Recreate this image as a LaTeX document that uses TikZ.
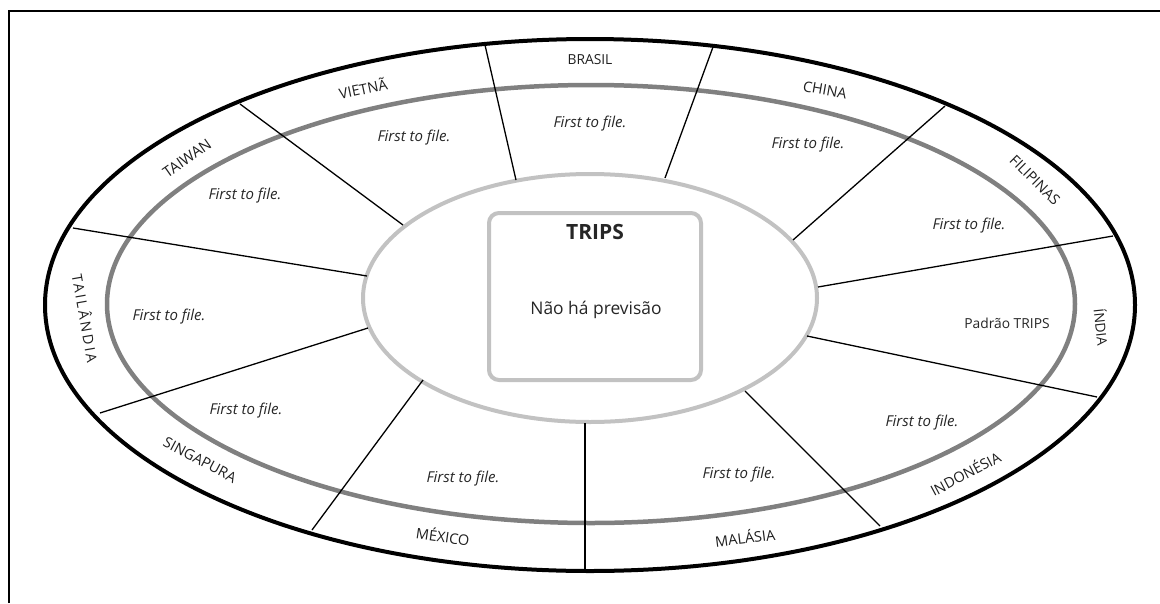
\documentclass[tikz,border=0pt]{standalone}
\usepackage{fontspec}
\setmainfont{Open Sans}
\begin{document}
\begin{tikzpicture}[x=1pt,y=-1pt,
  country/.style={font=\fontsize{14.5}{16}\selectfont, text=black!88, inner sep=0pt},
  rule/.style={font=\fontsize{15}{17}\selectfont\itshape, text=black!85, inner sep=0pt},
  divider/.style={line width=1.3pt, black},
  framestyle/.style={line width=1.5pt, black}]
\useasboundingbox (0,0) rectangle (1160,603);
% frame (left and top edges only visible)
\coordinate (fbl) at (9,603);
\coordinate (ftl) at (9,11);
\coordinate (ftr) at (1160,11);
\draw[framestyle] (fbl) -- (ftl) -- (ftr);
% ellipses
\draw[line width=4pt, black] (590,305) ellipse [x radius=545pt, y radius=266pt];
\draw[line width=4.5pt, black!50] (591,304) ellipse [x radius=484pt, y radius=219pt];
\draw[line width=4pt, black!24, fill=white] (590,298) ellipse [x radius=227pt, y radius=124pt];
% dividers: outer (o) and inner (i) ends
\coordinate (o1) at (485,45);   \coordinate (i1) at (516,180);
\coordinate (o2) at (713,47);   \coordinate (i2) at (665,178);
\coordinate (o3) at (240,104);  \coordinate (i3) at (403,225);
\coordinate (o4) at (73,228);   \coordinate (i4) at (367,276);
\coordinate (o5) at (100,413);  \coordinate (i5) at (368,328);
\coordinate (o6) at (312,530);  \coordinate (i6) at (423,380);
\coordinate (o7) at (585,570);  \coordinate (i7) at (585,423);
\coordinate (o8) at (880,526);  \coordinate (i8) at (745,391);
\coordinate (o9) at (1097,397); \coordinate (i9) at (807,336);
\coordinate (o10) at (1113,236);\coordinate (i10) at (818,287);
\coordinate (o11) at (945,106); \coordinate (i11) at (793,240);
\foreach \k in {1,...,11} {\draw[divider] (o\k) -- (i\k);}
% centre box
\node[draw=black!24, line width=4pt, rounded corners=10pt, minimum width=212pt, minimum height=167pt] (trips) at (595,296.5) {};
\node[font=\fontsize{21}{24}\selectfont\bfseries, text=black!85, inner sep=0pt] (tripst) at (595,232) {TRIPS};
\node[font=\fontsize{17.4}{20}\selectfont, text=black!85, inner sep=0pt] (nao) at (596,310) {Não há previsão};
% country labels
\node[country, font=\fontsize{13.8}{16}\selectfont] (brasil) at (590,60) {BRASIL};
\node[country, rotate=12] (vietna) at (363,88) {VIETNÃ};
\node[country, rotate=-10] (china) at (825,90) {CHINA};
\node[country, rotate=35, font=\fontsize{15}{16}\selectfont] (taiwan) at (187,158) {TAIWAN};
\node[country, rotate=-45] (filipinas) at (1035,180) {FILIPINAS};
\node[country, rotate=-80, font=\fontsize{14.2}{16}\selectfont\addfontfeature{LetterSpace=17}] (tailandia) at (86,318) {TAILÂNDIA};
\node[country, rotate=-28] (singapura) at (200,460) {SINGAPURA};
\node[country, rotate=-8] (mexico) at (443,536) {MÉXICO};
\node[country, rotate=7] (malasia) at (745,537) {MALÁSIA};
\node[country, rotate=28] (indonesia) at (965,473) {INDONÉSIA};
\node[country, rotate=-84, font=\fontsize{13.8}{16}\selectfont] (india) at (1102,327) {ÍNDIA};
% rules
\node[rule] (r1) at (590,124) {First to file.};
\node[rule] (r2) at (414,138) {First to file.};
\node[rule] (r3) at (808,145) {First to file.};
\node[rule] (r4) at (245,196) {First to file.};
\node[rule] (r5) at (969,226) {First to file.};
\node[rule] (r6) at (169,317) {First to file.};
\node[font=\fontsize{13.8}{16}\selectfont, text=black!85, inner sep=0pt] (r7) at (1007,323) {Padrão TRIPS};
\node[rule] (r8) at (246,411) {First to file.};
\node[rule] (r9) at (922,423) {First to file.};
\node[rule] (r10) at (463,479) {First to file.};
\node[rule] (r11) at (739,475) {First to file.};
\end{tikzpicture}
\end{document}
